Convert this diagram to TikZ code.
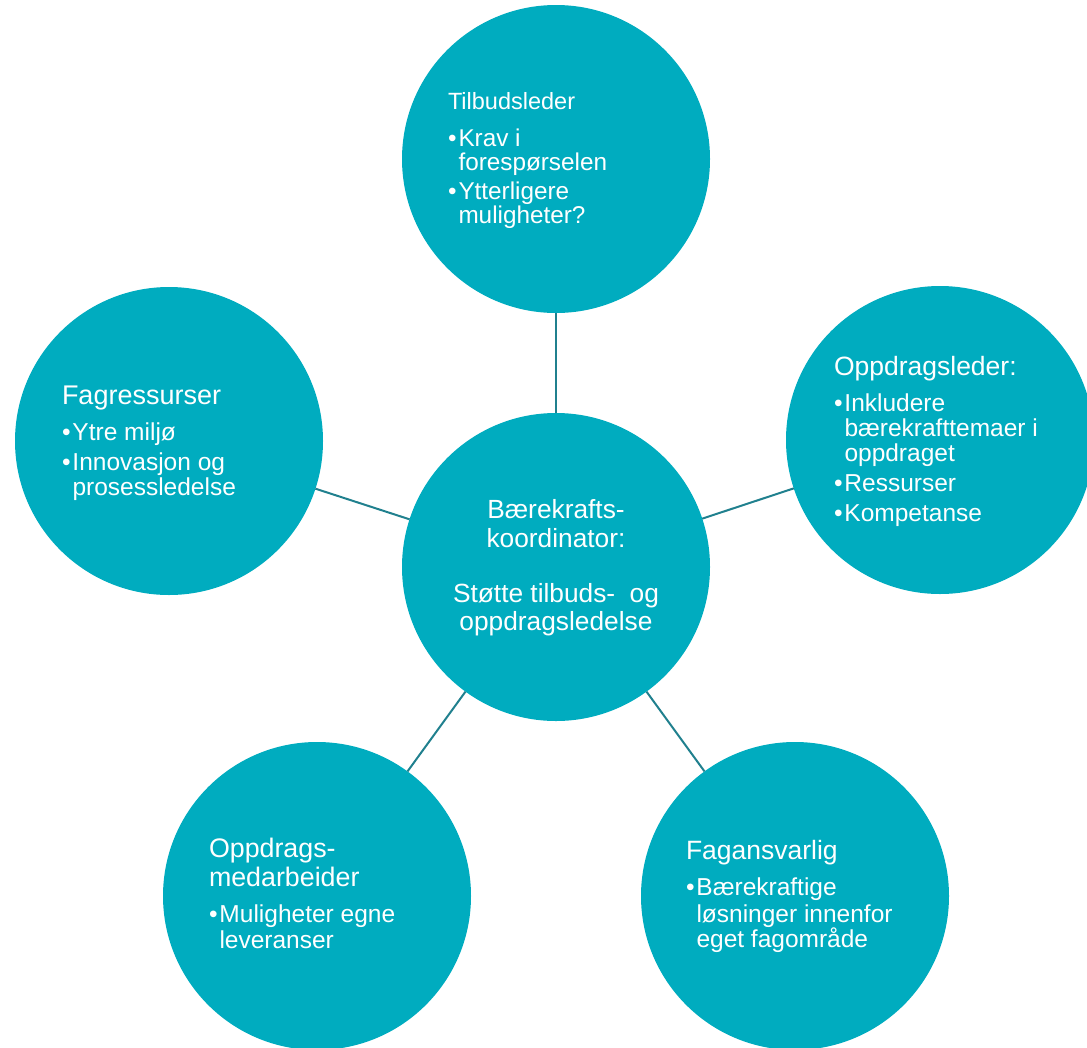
\documentclass[tikz,border=0pt]{standalone}
\usepackage{fontspec}
\setmainfont{Liberation Sans}
\usepackage{array}

\definecolor{bubblefill}{RGB}{0,172,191}
\definecolor{linkline}{RGB}{32,128,142}

% heading row spanning both columns: {size}{text}
\newcommand{\hd}[2]{\multicolumn{2}{@{}l@{}}{\smash{\fontsize{#1}{#1}\selectfont #2}}}
% bullet cell of fixed width
\newcommand{\bl}{\makebox[10.5pt][l]{\textbullet}}
% text cell with no effect on row height
\newcommand{\tx}[1]{\smash{#1}}

\begin{document}
\begin{tikzpicture}[x=1pt,y=-1pt,
  bubble/.style={circle, fill=bubblefill, minimum size=308pt, inner sep=0pt, outer sep=0pt},
  link/.style={draw=linkline, line width=2pt},
  txt/.style={text=white, inner sep=0pt, outer sep=0pt, anchor=base west,
              font=\fontsize{24.5}{25}\selectfont}
]
\useasboundingbox (0,0) rectangle (1087,1047);
\clip (0,0) rectangle (1087,1047);

% circles
\node[bubble] (top) at (556,159) {};
\node[bubble] (left) at (169,441) {};
\node[bubble] (right) at (940,440) {};
\node[bubble] (ctr) at (556,567) {};
\node[bubble] (bl) at (317,896) {};
\node[bubble] (br) at (795,896) {};

% spokes from the centre
\draw[link] (ctr) -- (top);
\draw[link] (ctr) -- (left);
\draw[link] (ctr) -- (right);
\draw[link] (ctr) -- (bl);
\draw[link] (ctr) -- (br);

% centre text
\node[txt, anchor=base, font=\fontsize{26.3}{28}\selectfont] (ctrtext) at (556,518) {%
\begin{tabular}[t]{@{}c@{}}
\tx{Bærekrafts-}\\[1pt]
\tx{koordinator:}\\[27pt]
\tx{Støtte tilbuds-\hspace{0.55em}og}\\
\tx{oppdragsledelse}
\end{tabular}};

% Tilbudsleder
\node[txt, font=\fontsize{24.3}{24}\selectfont] (toptext) at (448,109) {%
\begin{tabular}[t]{@{}l@{}l@{}}
\hd{23.5}{Tilbudsleder}\\[13pt]
\bl & \tx{Krav i}\\
    & \tx{forespørselen}\\[5pt]
\bl & \tx{Ytterligere}\\
    & \tx{muligheter?}
\end{tabular}};

% Oppdragsleder
\node[txt] (righttext) at (834,375) {%
\begin{tabular}[t]{@{}l@{}l@{}}
\hd{26.5}{Oppdragsleder:}\\[11pt]
\bl & \tx{Inkludere}\\
    & \tx{bærekrafttemaer i}\\
    & \tx{oppdraget}\\[5pt]
\bl & \tx{Ressurser}\\[5pt]
\bl & \tx{Kompetanse}
\end{tabular}};

% Fagressurser
\node[txt] (lefttext) at (62,404) {%
\begin{tabular}[t]{@{}l@{}l@{}}
\hd{27}{Fagressurser}\\[11pt]
\bl & \tx{Ytre miljø}\\[5pt]
\bl & \tx{Innovasjon og}\\
    & \tx{prosessledelse}
\end{tabular}};

% Oppdragsmedarbeider
\node[txt] (bltext) at (209,857) {%
\begin{tabular}[t]{@{}l@{}l@{}}
\hd{26.8}{Oppdrags-}\\[4pt]
\hd{26.8}{medarbeider}\\[11pt]
\bl & \tx{Muligheter egne}\\[1pt]
    & \tx{leveranser}
\end{tabular}};

% Fagansvarlig
\node[txt] (brtext) at (686,859) {%
\begin{tabular}[t]{@{}l@{}l@{}}
\hd{26.5}{Fagansvarlig}\\[11pt]
\bl & \tx{Bærekraftige}\\[2pt]
    & \tx{løsninger innenfor}\\
    & \tx{eget fagområde}
\end{tabular}};
\end{tikzpicture}
\end{document}
